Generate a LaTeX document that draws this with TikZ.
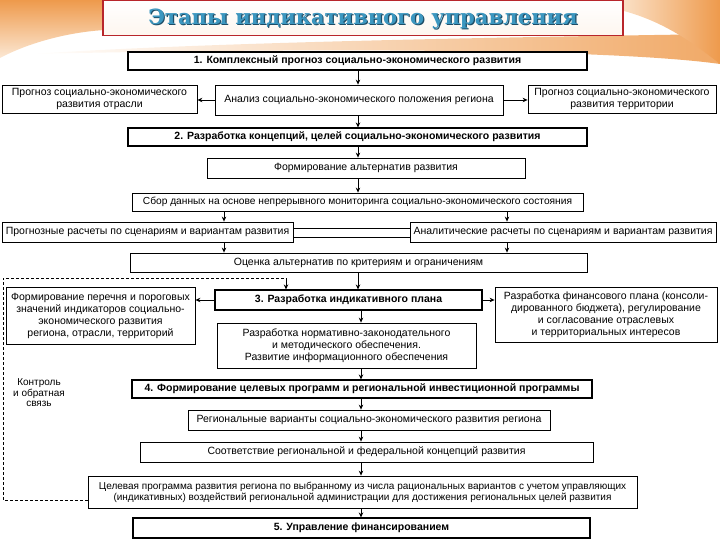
\documentclass[tikz,border=0pt]{standalone}
\usepackage{fontspec}
\setmainfont{Liberation Sans}
\newfontfamily\titlefont{DejaVu Serif}
\usetikzlibrary{arrows.meta,calc}
\definecolor{peach}{HTML}{F7C593}
\definecolor{orng}{HTML}{EE9A4C}
\definecolor{titleblue}{HTML}{3C97C0}
\definecolor{titledark}{HTML}{1E4D66}
\definecolor{frame}{HTML}{B8262B}
\begin{document}
\begin{tikzpicture}[x=1pt,y=-1pt,
  box/.style={draw, line width=0.8pt, fill=white, inner sep=1pt, align=center,
    font=\fontsize{10.5}{12}\selectfont},
  bbox/.style={box, line width=1.1pt, font=\fontsize{10.5}{12}\selectfont\bfseries},
  arr/.style={-{Stealth[length=5pt,width=4.5pt]}, line width=0.8pt},
  fbline/.style={line width=0.6pt, dash pattern=on 3pt off 2pt}]
\useasboundingbox (0,0) rectangle (720,540);
% background decoration
\shade[top color=orng, bottom color=peach!40] (0,0) -- (105,0) -- (105,30) .. controls (70,32) and (30,42) .. (0,58) -- cycle;
\shade[left color=white, right color=orng!85] (30,54) .. controls (200,43) and (450,38) .. (720,34) -- (720,64) .. controls (620,50) and (350,47) .. (30,54) -- cycle;
\shade[left color=peach!50, right color=orng] (620,0) -- (720,0) -- (720,64) .. controls (690,40) and (660,20) .. (620,10) -- cycle;
% title
\node[draw=frame, line width=1.5pt, top color=white, bottom color=peach!15, minimum width=520pt, minimum height=35pt] (title) at (363,18) {};
\node[text=titledark] at (364.2,20.2) {\titlefont\bfseries\fontsize{21}{24}\selectfont Этапы индикативного управления};
\node[text=titleblue] (ttext) at (363,19) {\titlefont\bfseries\fontsize{21}{24}\selectfont Этапы индикативного управления};
% column coordinates
\coordinate (xm) at (358,0);
\coordinate (xn) at (361,0);
\coordinate (xl) at (224,0);
\coordinate (xr) at (507,0);
% nodes
\node[bbox, minimum width=459pt, minimum height=18pt] (B1) at (357.5,61) {1. Комплексный прогноз социально-экономического развития};
\node[box, minimum width=288pt, minimum height=30pt] (A) at (359,100) {Анализ социально-экономического положения региона};
\node[box, minimum width=195pt, minimum height=28pt] (L1) at (99.5,99) {Прогноз социально-экономического\\развития отрасли};
\node[box, minimum width=188pt, minimum height=28pt] (R1) at (622,99) {Прогноз социально-экономического\\развития территории};
\node[bbox, minimum width=459pt, minimum height=18pt] (B2) at (357.5,137) {2. Разработка концепций, целей социально-экономического развития};
\node[box, minimum width=318pt, minimum height=20pt] (F) at (366,168) {Формирование альтернатив развития};
\node[box, minimum width=451pt, minimum height=18pt, font=\fontsize{10.2}{12}\selectfont] (S) at (357.5,202) {Сбор данных на основе непрерывного мониторинга социально-экономического состояния};
\node[box, minimum width=291pt, minimum height=20pt] (P1) at (147.5,232) {Прогнозные расчеты по сценариям и вариантам развития};
\node[box, minimum width=306pt, minimum height=20pt] (P2) at (563,232) {Аналитические расчеты по сценариям и вариантам развития};
\node[box, minimum width=457pt, minimum height=19pt] (O) at (358.5,262.5) {Оценка альтернатив по критериям и ограничениям};
\node[bbox, minimum width=267pt, minimum height=20pt] (B3) at (348.5,300) {3. Разработка индикативного плана};
\node[box, minimum width=189pt, minimum height=57pt] (L3) at (100.5,315.5) {Формирование перечня и пороговых\\значений индикаторов социально-\\экономического развития\\региона, отрасли, территорий};
\node[box, minimum width=222pt, minimum height=55pt] (R3) at (606,314.5) {Разработка финансового плана (консоли-\\дированного бюджета), регулирование\\и согласование отраслевых\\и территориальных интересов};
\node[box, minimum width=259pt, minimum height=45pt] (N) at (346.5,345.5) {Разработка нормативно-законодательного\\и методического обеспечения.\\Развитие информационного обеспечения};
\node[bbox, minimum width=460pt, minimum height=18pt] (B4) at (362,389) {4. Формирование целевых программ и региональной инвестиционной программы};
\node[box, minimum width=362pt, minimum height=20pt] (RV) at (369,420) {Региональные варианты социально-экономического развития региона};
\node[box, minimum width=453pt, minimum height=20pt] (SO) at (366.5,452) {Соответствие региональной и федеральной концепций развития};
\node[box, minimum width=549pt, minimum height=32pt, font=\fontsize{10}{11}\selectfont] (T) at (362.5,492) {Целевая программа развития региона по выбранному из числа рациональных вариантов с учетом управляющих\\(индикативных) воздействий региональной администрации для достижения региональных целей развития};
\node[bbox, minimum width=457pt, minimum height=20pt] (B5) at (361.5,528) {5. Управление финансированием};
\node[align=center, font=\fontsize{10}{10.5}\selectfont] (ctl) at (39,393) {Контроль\\и обратная\\связь};
% connectors
\draw[arr] (B1.south -| xm) -- (A.north -| xm);
\draw[arr] (A.west) -- (A.west -| L1.east);
\draw[arr] (A.east) -- (A.east -| R1.west);
\draw[arr] (A.south -| xm) -- (B2.north -| xm);
\draw[arr] (B2.south -| xm) -- (F.north -| xm);
\draw[arr] (F.south -| xm) -- (S.north -| xm);
\draw[arr] (S.south -| xl) -- (P1.north -| xl);
\draw[arr] (S.south -| xr) -- (P2.north -| xr);
\coordinate (c1) at (0,228);
\coordinate (c2) at (0,237);
\draw[line width=0.8pt] (c1 -| P1.east) -- (c1 -| P2.west);
\draw[line width=0.8pt] (c2 -| P1.east) -- (c2 -| P2.west);
\draw[arr] (P1.south -| xl) -- (O.north -| xl);
\draw[arr] (P2.south -| xr) -- (O.north -| xr);
\draw[arr] (O.south -| xm) -- (B3.north -| xm);
\draw[arr] (B3.west) -- (B3.west -| L3.east);
\draw[arr] (B3.east) -- (B3.east -| R3.west);
\draw[arr] (B3.south -| xn) -- (N.north -| xn);
\draw[arr] (N.south -| xn) -- (B4.north -| xn);
\draw[arr] (B4.south -| xn) -- (RV.north -| xn);
\draw[arr] (RV.south -| xn) -- (SO.north -| xn);
\draw[arr] (SO.south -| xn) -- (T.north -| xn);
\draw[arr] (T.south -| xn) -- (B5.north -| xn);
% feedback loop
\coordinate (d1) at (3,278);
\coordinate (d2) at (286,278);
\coordinate (d3) at (3,500);
\draw[fbline] (d3 -| T.west) -- (d3) -- (d1) -- (d2);
\draw[arr] (d2) -- (d2 |- B3.north);
\end{tikzpicture}
\end{document}
